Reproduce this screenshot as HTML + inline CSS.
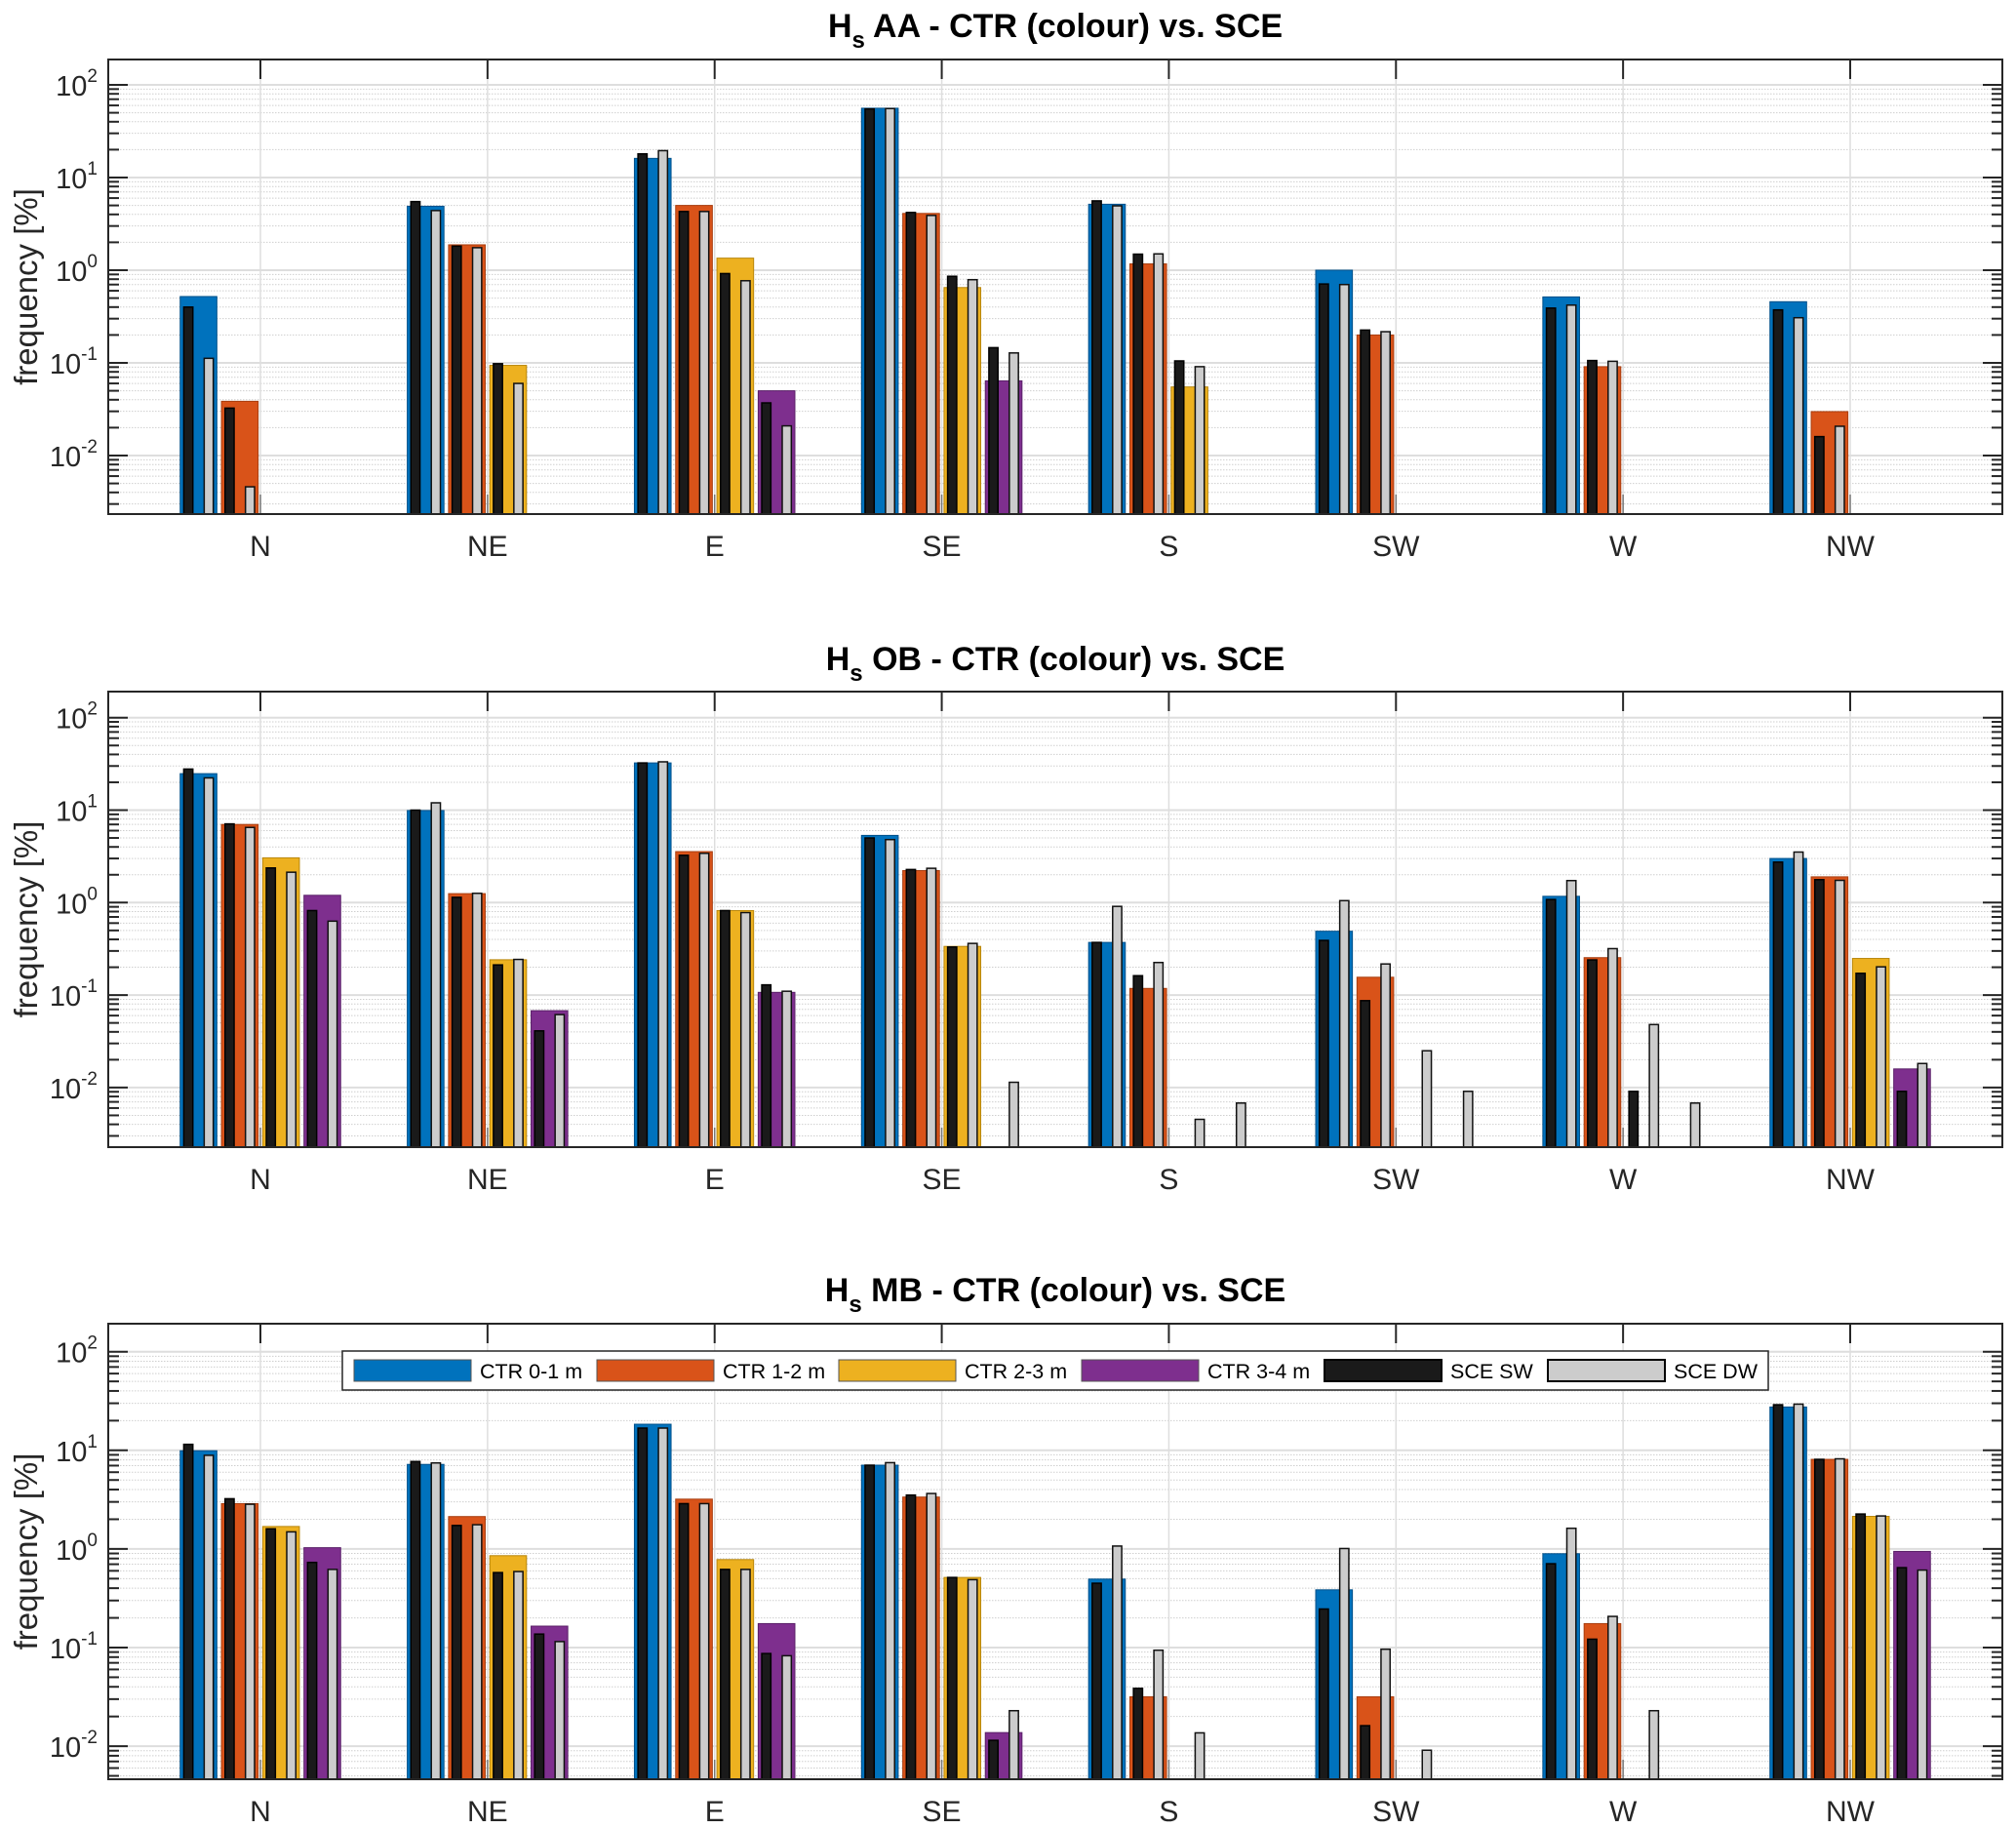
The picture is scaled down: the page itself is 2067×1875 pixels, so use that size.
<!DOCTYPE html>
<html><head><meta charset="utf-8"><style>
html,body{margin:0;padding:0;background:#fff;}
svg{display:block;font-family:"Liberation Sans",Arial,sans-serif;}
</style></head><body>
<svg id="fig" width="2067" height="1875" viewBox="0 0 2067 1875" xmlns="http://www.w3.org/2000/svg"></svg>
<script>
const categories = ["N","NE","E","SE","S","SW","W","NW"];
const seriesNames = ["CTR 0-1 m","CTR 1-2 m","CTR 2-3 m","CTR 3-4 m"];
const panelTitles = ["AA - CTR (colour) vs. SCE","OB - CTR (colour) vs. SCE","MB - CTR (colour) vs. SCE"];
const yTickExps = [-2,-1,0,1,2];

const aaCtr = [
 [0.52,4.9,16.1,56,5.15,1.0,0.515,0.457],
 [0.0385,1.88,5.0,4.1,1.17,0.20,0.091,0.0298],
 [null,0.094,1.35,0.65,0.055,null,null,null],
 [null,null,0.050,0.064,null,null,null,null]];
const aaSW = [
 [0.40,5.5,18,55,5.6,0.71,0.39,0.373],
 [0.0325,1.82,4.3,4.2,1.49,0.226,0.106,0.016],
 [null,0.098,0.92,0.86,0.105,null,null,null],
 [null,null,0.037,0.146,null,null,null,null]];
const aaDW = [
 [0.112,4.4,19.5,55.5,4.95,0.70,0.42,0.307],
 [0.0046,1.75,4.3,3.9,1.5,0.217,0.104,0.0207],
 [null,0.060,0.77,0.79,0.091,null,null,null],
 [null,null,0.0209,0.128,null,null,null,null]];

const obCtr = [
 [24.8,9.9,32.4,5.33,0.371,0.49,1.17,3.0],
 [7.0,1.25,3.56,2.22,0.118,0.156,0.254,1.9],
 [3.05,0.241,0.82,0.336,null,null,null,0.249],
 [1.2,0.0678,0.107,null,null,null,null,0.0159]];
const obSW = [
 [27.8,10,32.4,5.0,0.371,0.39,1.08,2.74],
 [7.1,1.14,3.25,2.28,0.162,0.087,0.24,1.77],
 [2.37,0.212,0.82,0.331,null,null,0.0091,0.172],
 [0.82,0.041,0.129,null,null,null,null,0.0091]];
const obDW = [
 [22.3,12,33.3,4.8,0.91,1.05,1.73,3.52],
 [6.5,1.26,3.41,2.35,0.225,0.217,0.318,1.74],
 [2.13,0.243,0.78,0.362,0.00453,0.025,0.048,0.202],
 [0.63,0.0615,0.110,0.0114,0.0068,0.0091,0.0068,0.0182]];

const mbCtr = [
 [9.9,7.2,18.4,7.07,0.495,0.385,0.895,27.5],
 [2.88,2.13,3.2,3.36,0.0317,0.0317,0.175,8.1],
 [1.69,0.855,0.78,0.514,null,null,null,2.14],
 [1.03,0.165,0.175,0.01374,null,null,null,0.944]];
const mbSW = [
 [11.5,7.7,16.8,7.07,0.449,0.246,0.708,29],
 [3.23,1.73,2.88,3.52,0.0386,0.01614,0.1216,8.1],
 [1.6,0.576,0.62,0.514,null,null,null,2.26],
 [0.73,0.137,0.087,0.01146,null,null,null,0.646]];
const mbDW = [
 [8.9,7.45,16.8,7.5,1.07,1.01,1.62,29.4],
 [2.84,1.76,2.88,3.65,0.094,0.0962,0.207,8.2],
 [1.49,0.59,0.62,0.488,0.01365,0.0091,0.0229,2.16],
 [0.62,0.115,0.0826,0.0229,null,null,null,0.61]];

const colors = ["#0072BD","#D95319","#EDB120","#7E2F8E"];
const edgeColors = ["#00508a","#a83e10","#b8860b","#5a2068"];
const NS = "http://www.w3.org/2000/svg";
const svg = document.getElementById("fig");
function el(tag, attrs, parent){
  const e = document.createElementNS(NS, tag);
  for (const k in attrs) e.setAttribute(k, attrs[k]);
  (parent||svg).appendChild(e);
  return e;
}
const L = 111, R = 2053;
const panels = [
 {key:"aa", top:61, bottom:527, y100:87, dec:95, ctr:aaCtr, sw:aaSW, dw:aaDW, titleY:38},
 {key:"ob", top:709, bottom:1176, y100:735.7, dec:94.8, ctr:obCtr, sw:obSW, dw:obDW, titleY:687},
 {key:"mb", top:1357, bottom:1824, y100:1385.7, dec:101.1, ctr:mbCtr, sw:mbSW, dw:mbDW, titleY:1334}
];
const xMin = 0.33, xMax = 8.67;
function xScale(v){ return L + (v - xMin) / (xMax - xMin) * (R - L); }

panels.forEach((p, pi) => {
  const logMax = 2 + (p.y100 - p.top) / p.dec;
  const logMin = 2 - (p.bottom - p.y100) / p.dec;
  const yScale = v => p.top + (logMax - Math.log10(v)) / (logMax - logMin) * (p.bottom - p.top);
  const g = el("g", {});
  
  
  const grid = el("g", {}, g);
  
  
  for (let e = Math.floor(logMin); e <= Math.ceil(logMax); e++) {
    for (let m = 1; m <= 9; m++) {
      const v = m * Math.pow(10, e);
      const lv = Math.log10(v);
      if (lv < logMin || lv > logMax) continue;
      const y = yScale(v);
      if (m === 1) {
        el("line", {x1:L, x2:R, y1:y, y2:y, stroke:"#dedede", "stroke-width":2}, grid);
      } else {
        el("line", {x1:L, x2:R, y1:y, y2:y, stroke:"#cfcfcf", "stroke-width":1, "stroke-dasharray":"1.5,1.5"}, grid);
      }
    }
  }
  categories.forEach((c, i) => {
    const x = xScale(i + 1);
    el("line", {x1:x, x2:x, y1:p.top, y2:p.bottom, stroke:"#dedede", "stroke-width":1.5}, grid);
    el("line", {x1:x, x2:x, y1:p.bottom - 20, y2:p.bottom, stroke:"#777", "stroke-width":1.5}, grid);
  });
  const catW = xScale(2) - xScale(1);
  const period = catW * 0.1817, bw = catW * 0.1615, sbw = catW * 0.04, soff = catW * 0.045;
  for (let s = 0; s < 4; s++) {
    categories.forEach((c, i) => {
      const cx = xScale(i + 1) + (s - 1.5) * period;
      const v = p.ctr[s][i];
      if (v != null) {
        const y = yScale(v);
        const r = el("rect", {x:cx - bw/2, y:y, width:bw, height:p.bottom - y, fill:colors[s], stroke:edgeColors[s], "stroke-width":1}, g);
        
        
      }
      const vs = p.sw[s][i];
      if (vs != null) {
        const y = yScale(vs);
        const r = el("rect", {x:cx - soff - sbw/2, y:y, width:sbw, height:p.bottom - y, fill:"#1a1a1a", stroke:"#000", "stroke-width":1.5}, g);
        
        
      }
      const vd = p.dw[s][i];
      if (vd != null) {
        const y = yScale(vd);
        const r = el("rect", {x:cx + soff - sbw/2, y:y, width:sbw, height:p.bottom - y, fill:"#cccccc", stroke:"#111", "stroke-width":1.5}, g);
        
        
      }
    });
  }
  for (let e = Math.floor(logMin); e <= Math.ceil(logMax); e++) {
    for (let m = 1; m <= 9; m++) {
      const v = m * Math.pow(10, e);
      const lv = Math.log10(v);
      if (lv < logMin || lv > logMax) continue;
      const y = yScale(v);
      const len = m === 1 ? 20 : 11;
      el("line", {x1:L, x2:L + len, y1:y, y2:y, stroke:"#262626", "stroke-width":2}, g);
      el("line", {x1:R, x2:R - len, y1:y, y2:y, stroke:"#262626", "stroke-width":2}, g);
    }
  }
  yTickExps.forEach(e => {
    const y = yScale(Math.pow(10, e));
    const t = el("text", {x:100, y:y + 11, "text-anchor":"end", "font-size":29, fill:"#262626"}, g);
    
    
    const b = el("tspan", {}, t); b.textContent = "10";
    const sup = el("tspan", {dy:-14, "font-size":19}, t); sup.textContent = String(e);
  });
  categories.forEach((c, i) => {
    const x = xScale(i + 1);
    el("line", {x1:x, x2:x, y1:p.top, y2:p.top + 20, stroke:"#262626", "stroke-width":2}, g);
    const t = el("text", {x:x, y:p.bottom + 43, "text-anchor":"middle", "font-size":30, fill:"#262626"}, g);
    
    
    t.textContent = c;
  });
  const box = el("rect", {x:L, y:p.top, width:R - L, height:p.bottom - p.top, fill:"none", stroke:"#262626", "stroke-width":2}, g);
  
  
  const cy = (p.top + p.bottom) / 2;
  const yl = el("text", {x:0, y:0, transform:`translate(38,${cy}) rotate(-90)`, "text-anchor":"middle", "font-size":33, fill:"#262626"}, g);
  
  
  yl.textContent = "frequency [%]";
  const tt = el("text", {x:(L + R) / 2, y:p.titleY, "text-anchor":"middle", "font-size":34, "font-weight":"bold", fill:"#000"}, g);
  
  
  const h = el("tspan", {}, tt); h.textContent = "H";
  const sub = el("tspan", {dy:11, "font-size":24}, tt); sub.textContent = "s";
  const rest = el("tspan", {dy:-11}, tt); rest.textContent = " " + panelTitles[pi];
});

const legendLabels = ["CTR 0-1 m","CTR 1-2 m","CTR 2-3 m","CTR 3-4 m","SCE SW","SCE DW"];
const legendFills = ["#0072BD","#D95319","#EDB120","#7E2F8E","#1a1a1a","#cccccc"];
const legendSwatchX = [363,612,860,1109,1358,1587];
const lg = el("g", {});


el("rect", {x:351, y:1385, width:1462, height:40, fill:"#fff", stroke:"#262626", "stroke-width":1.5}, lg);
legendLabels.forEach((lab, i) => {
  const eg = el("g", {}, lg);
  
  
  const sx = legendSwatchX[i];
  el("rect", {x:sx, y:1394, width:120, height:22, fill:legendFills[i], stroke:i >= 4 ? "#000" : "#555", "stroke-width":i >= 4 ? 2 : 1}, eg);
  const t = el("text", {x:sx + 129, y:1413, "font-size":21.5, fill:"#000"}, eg);
  t.textContent = lab;
});
</script>
</body></html>
